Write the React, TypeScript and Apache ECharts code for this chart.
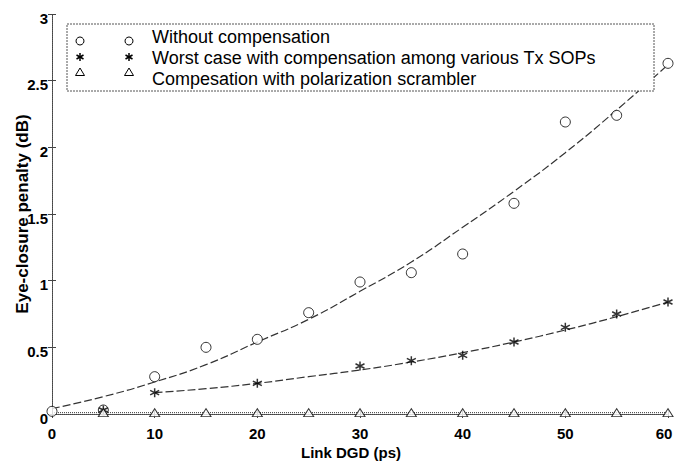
import React, { useEffect, useRef } from "react";
import * as echarts from "echarts";

const xTicks = [0, 10, 20, 30, 40, 50, 60];
const yTicks = [0, 0.5, 1, 1.5, 2, 2.5, 3];

const withoutX = [0, 5, 10, 15, 20, 25, 30, 35, 40, 45, 50, 55, 60];
const withoutY = [0.02, 0.03, 0.28, 0.5, 0.56, 0.76, 0.99, 1.06, 1.2, 1.58, 2.19, 2.24, 2.63];
const withoutFitX = [0, 5, 10, 15, 20, 25, 30, 35, 40, 45, 50, 55, 60];
const withoutFitY = [0.04, 0.13, 0.24, 0.37, 0.54, 0.71, 0.92, 1.14, 1.4, 1.67, 1.96, 2.28, 2.62];

const worstX = [5, 10, 20, 30, 35, 40, 45, 50, 55, 60];
const worstY = [0.03, 0.16, 0.23, 0.36, 0.4, 0.44, 0.54, 0.65, 0.75, 0.84];
const worstFitX = [10, 15, 20, 25, 30, 35, 40, 45, 50, 55, 60];
const worstFitY = [0.16, 0.19, 0.23, 0.28, 0.33, 0.39, 0.46, 0.54, 0.63, 0.73, 0.84];

const scramX = [5, 10, 15, 20, 25, 30, 35, 40, 45, 50, 55, 60];
const scramY = [0.01, 0.01, 0.01, 0.01, 0.01, 0.01, 0.01, 0.01, 0.01, 0.01, 0.01, 0.01];

const legendLabels = [
  "Without compensation",
  "Worst case with compensation among various Tx SOPs",
  "Compesation with polarization scrambler",
];

const zip = (xs: number[], ys: number[]) => xs.map((x, i) => [x, ys[i]]);

const ASTERISK = "path://M5,0L5,10M0.67,2.5L9.33,7.5M0.67,7.5L9.33,2.5";
const FONT = "'Liberation Sans', Arial, sans-serif";

export default function App() {
  const ref = useRef<HTMLDivElement>(null);
  useEffect(() => {
    if (!ref.current) return;
    const chart = echarts.init(ref.current, undefined, { renderer: "svg" });
    const axisLine = { show: true, lineStyle: { color: "#444", type: "dotted" as const, width: 1 } };
    const tick = { show: true, inside: true, length: 4, lineStyle: { color: "#444" } };
    const labelStyle = { fontFamily: FONT, fontWeight: "bold" as const, fontSize: 15, color: "#000" };

    const legendRows = [41, 57, 72];
    const textRows = [37, 58, 79];
    const markerXs = [80, 129];
    const graphics: any[] = [
      {
        type: "rect",
        shape: { x: 67, y: 24, width: 587, height: 67 },
        style: { fill: "#fff", stroke: "#555", lineWidth: 1, lineDash: [2, 1] },
        z: 10,
      },
    ];
    legendLabels.forEach((t, i) => {
      graphics.push({
        type: "text",
        x: 152,
        y: textRows[i],
        style: { text: t, font: `18px ${FONT}`, fill: "#000", verticalAlign: "middle" },
        z: 11,
      });
    });
    markerXs.forEach((mx) => {
      graphics.push({
        type: "circle",
        shape: { cx: mx, cy: legendRows[0], r: 4 },
        style: { fill: "#fff", stroke: "#000", lineWidth: 1 },
        z: 11,
      });
      const ay = legendRows[1];
      [[0, -4, 0, 4], [-3.5, -2, 3.5, 2], [-3.5, 2, 3.5, -2]].forEach((s) =>
        graphics.push({
          type: "line",
          shape: { x1: mx + s[0], y1: ay + s[1], x2: mx + s[2], y2: ay + s[3] },
          style: { stroke: "#000", lineWidth: 1.5 },
          z: 11,
        })
      );
      const ty = legendRows[2];
      graphics.push({
        type: "polygon",
        shape: { points: [[mx, ty - 4], [mx - 4.5, ty + 3.5], [mx + 4.5, ty + 3.5]] },
        style: { fill: "#fff", stroke: "#000", lineWidth: 1 },
        z: 11,
      });
    });

    chart.setOption({
      animation: false,
      backgroundColor: "#fff",
      grid: { left: 52, right: 6, top: 14, bottom: 48, containLabel: false, outerBoundsMode: "none" },
      xAxis: [
        {
          type: "value",
          min: 0,
          max: 60,
          interval: 10,
          name: "Link DGD (ps)",
          nameLocation: "middle",
          nameGap: 31,
          nameMoveOverlap: false,
          nameTextStyle: { ...labelStyle, fontSize: 15, padding: [0, 18, 0, 0] },
          axisLine,
          axisTick: tick,
          splitLine: { show: false },
          axisLabel: {
            ...labelStyle,
            margin: 12,
            formatter: (v: number) => (v === 60 ? "{r|60}" : xTicks.includes(v) ? String(v) : ""),
            rich: { r: { ...labelStyle, padding: [0, 8, 0, 0] } },
          },
        },
        {
          type: "value",
          position: "top",
          min: 0,
          max: 60,
          interval: 10,
          axisLine,
          axisTick: tick,
          splitLine: { show: false },
          axisLabel: { show: false },
        },
      ],
      yAxis: [
        {
          type: "value",
          min: 0,
          max: 3,
          interval: 0.5,
          name: "Eye-closure penalty (dB)",
          nameLocation: "middle",
          nameGap: 21,
          nameMoveOverlap: false,
          nameRotate: 90,
          nameTextStyle: { ...labelStyle, fontSize: 17 },
          axisLine,
          axisTick: tick,
          splitLine: { show: false },
          axisLabel: {
            ...labelStyle,
            margin: 4,
            formatter: (v: number) => (yTicks.includes(v) ? "{d|" + v + "}" : ""),
            rich: { d: { ...labelStyle, padding: [8, 0, 0, 0] } },
          },
        },
        {
          type: "value",
          position: "right",
          min: 0,
          max: 3,
          interval: 0.5,
          axisLine,
          axisTick: tick,
          splitLine: { show: false },
          axisLabel: { show: false },
        },
      ],
      series: [
        {
          type: "line",
          data: zip(withoutFitX, withoutFitY),
          smooth: true,
          showSymbol: false,
          lineStyle: { color: "#333", width: 1.2, type: [8, 3] },
          z: 2,
        },
        {
          type: "line",
          data: zip(worstFitX, worstFitY),
          smooth: true,
          showSymbol: false,
          lineStyle: { color: "#333", width: 1.2, type: [8, 3] },
          z: 2,
        },
        {
          type: "line",
          data: zip([0, 60], [0.01, 0.01]),
          showSymbol: false,
          lineStyle: { color: "#333", width: 1, type: "dotted" },
          z: 2,
        },
        {
          type: "scatter",
          data: zip(withoutX, withoutY),
          symbol: "circle",
          symbolSize: 10,
          itemStyle: { color: "#fff", borderColor: "#000", borderWidth: 1 },
          z: 3,
        },
        {
          type: "scatter",
          data: zip(worstX, worstY),
          symbol: ASTERISK,
          symbolSize: 9,
          itemStyle: { color: "#000", borderColor: "#000", borderWidth: 1.5 },
          z: 3,
        },
        {
          type: "scatter",
          data: zip(scramX, scramY),
          symbol: "triangle",
          symbolSize: [10, 8],
          itemStyle: { color: "#fff", borderColor: "#000", borderWidth: 1 },
          z: 3,
        },
      ],
      graphic: graphics,
    });
    return () => chart.dispose();
  }, []);
  return <div ref={ref} style={{ width: 674, height: 462, position: "absolute", left: 0, top: 0 }} />;
}
